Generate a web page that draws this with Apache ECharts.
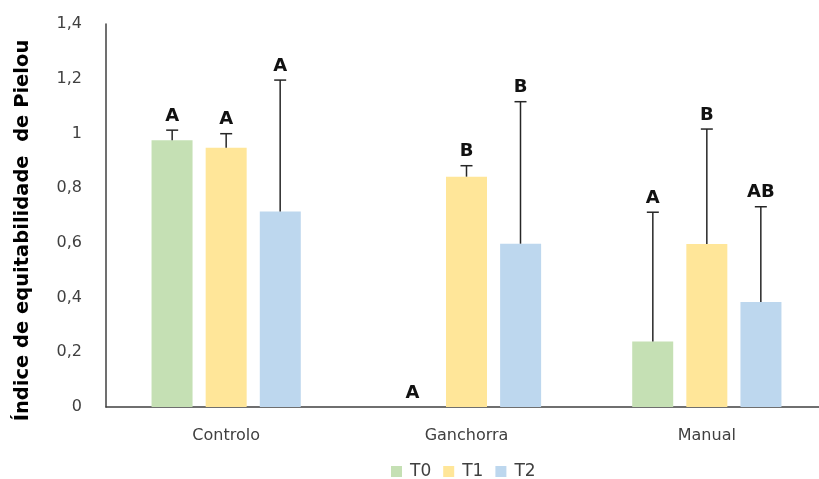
<!DOCTYPE html>
<html>
<head>
<meta charset="utf-8">
<script src="https://cdn.jsdelivr.net/npm/echarts@6/dist/echarts.min.js"></script>
<style>
  html, body { margin: 0; padding: 0; background: #fff; }
  #chart { width: 819px; height: 479px; }
</style>
</head>
<body>
<div id="chart"></div>
<script>
const categories = ['Controlo', 'Ganchorra', 'Manual'];
const seriesNames = ['T0', 'T1', 'T2'];
const t0 = [0.975, 0, 0.239];
const t1 = [0.948, 0.842, 0.596];
const t2 = [0.715, 0.597, 0.384];
const t0Err = [0.037, 0, 0.473];
const t1Err = [0.051, 0.040, 0.420];
const t2Err = [0.480, 0.519, 0.348];
const t0Letters = ['A', 'A', 'A'];
const t1Letters = ['A', 'B', 'B'];
const t2Letters = ['A', 'B', 'AB'];

const means = [t0, t1, t2];
const errs = [t0Err, t1Err, t2Err];
const letters = [t0Letters, t1Letters, t2Letters];
const colors = ['#c5e0b4', '#ffe699', '#bdd7ee'];
const font = 'DejaVu Sans';

const chart = echarts.init(document.getElementById('chart'), null, { renderer: 'canvas' });

const barSeries = seriesNames.map((name, i) => ({
  name,
  type: 'bar',
  data: means[i],
  barWidth: 41,
  barGap: '32%',
  itemStyle: { color: colors[i] },
  emphasis: { disabled: true },
}));

// error bars (upper only) + significance letters
const errSeries = seriesNames.map((name, i) => ({
  name: name + '-err',
  type: 'custom',
  silent: true,
  z: 5,
  data: categories.map((c, k) => [k, means[i][k], errs[i][k], letters[i][k]]),
  renderItem: (params, api) => {
    const k = api.value(0);
    const m = api.value(1);
    const e = api.value(2);
    const off = (i - 1) * 54;
    const base = api.coord([k, m]);
    const top = api.coord([k, m + e]);
    const x = base[0] + off;
    const children = [];
    if (e > 0) {
      children.push({
        type: 'line',
        shape: { x1: x, y1: base[1], x2: x, y2: top[1] },
        style: { stroke: '#262626', lineWidth: 1.5 },
      });
      children.push({
        type: 'line',
        shape: { x1: x - 6, y1: top[1], x2: x + 6, y2: top[1] },
        style: { stroke: '#262626', lineWidth: 1.5 },
      });
    }
    children.push({
      type: 'text',
      x: x,
      y: top[1] - 5,
      style: {
        text: api.value(3),
        fill: '#111',
        font: 'bold 18px "' + font + '"',
        align: 'center',
        verticalAlign: 'bottom',
      },
    });
    return { type: 'group', children };
  },
}));

chart.setOption({
  animation: false,
  textStyle: { fontFamily: font },
  grid: { left: 106, top: 24, bottom: 72, width: 721, outerBoundsMode: 'none' },
  legend: {
    data: seriesNames,
    top: 458,
    left: 386,
    itemWidth: 11,
    itemHeight: 11,
    itemGap: 12,
    icon: 'rect',
    textStyle: { color: '#404040', fontSize: 17, fontFamily: font, padding: [0, 0, 0, 3] },
  },
  xAxis: {
    type: 'category',
    data: categories,
    axisLine: { lineStyle: { color: '#404040', width: 1.5 } },
    axisTick: { show: false },
    axisLabel: { color: '#404040', fontSize: 16, margin: 21 },
  },
  yAxis: {
    type: 'value',
    min: 0,
    max: 1.4,
    interval: 0.2,
    name: 'Índice de equitabilidade  de Pielou',
    nameLocation: 'middle',
    nameGap: 73,
    nameTextStyle: {
      color: '#000', fontSize: 19.5, fontWeight: 'bold', fontFamily: font,
      padding: [0, 30, 0, 0],
    },
    axisLine: { show: true, lineStyle: { color: '#404040', width: 1.5 } },
    axisTick: { show: false },
    splitLine: { show: false },
    axisLabel: {
      color: '#404040',
      fontSize: 16,
      margin: 24,
      formatter: (v) => String(Math.round(v * 10) / 10).replace('.', ','),
    },
  },
  series: [...barSeries, ...errSeries],
});
</script>
</body>
</html>
